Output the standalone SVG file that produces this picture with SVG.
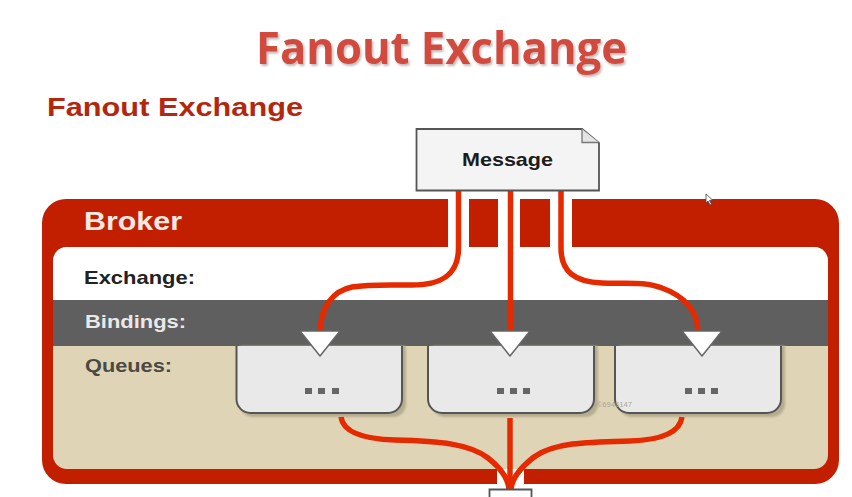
<svg xmlns="http://www.w3.org/2000/svg" width="852" height="497" viewBox="0 0 852 497">
<style>
text{font-family:"Liberation Sans",Arial,sans-serif;font-weight:bold}
.conn{fill:none;stroke:#e62a00;stroke-width:5.500}
.q{fill:#e9e9e9;stroke:#555;stroke-width:2}
.qs{fill:#b5ac90}
.tri{fill:#fff;stroke:#666;stroke-width:1.500;stroke-linejoin:round}
.lab{font-size:19px}
.dots{fill:#666}
</style>
<defs>
<filter id="b" x="-5%" y="-5%" width="110%" height="110%"><feGaussianBlur stdDeviation="1.200"/></filter>
<filter id="ts" x="-5%" y="-10%" width="110%" height="125%"><feDropShadow dx="1.500" dy="2" stdDeviation="1.200" flood-color="#b0a8a5" flood-opacity=".8"/></filter>
</defs>
<rect width="852" height="497" fill="#fff"/>
<text id="title" x="441.500" y="64" text-anchor="middle" textLength="371" lengthAdjust="spacingAndGlyphs" filter="url(#ts)" style="font-family:'Open Sans','Noto Sans',sans-serif;font-size:44px;fill:#d24a3e">Fanout Exchange</text>
<text id="subtitle" x="47" y="116" textLength="256" lengthAdjust="spacingAndGlyphs" style="font-size:25.500px;fill:#b3270f">Fanout Exchange</text>
<g id="broker">
<rect x="42" y="199" width="797" height="285" rx="24" fill="#c21f00"/>
<rect x="448" y="199" width="21" height="48" fill="#fff"/>
<rect x="498" y="199" width="22" height="48" fill="#fff"/>
<rect x="550" y="199" width="22" height="48" fill="#fff"/>
<rect x="497" y="469" width="27" height="15" fill="#fff"/>
<rect x="53" y="247" width="775" height="222" rx="14" fill="#e0d4b6"/>
<path d="M53 300V261a14 14 0 0 1 14-14H814a14 14 0 0 1 14 14V300Z" fill="#fff"/>
<rect x="53" y="300" width="775" height="46" fill="#5f5f5f"/>
<text x="84" y="230" textLength="98" lengthAdjust="spacingAndGlyphs" style="font-size:25px;fill:#f3e9e4">Broker</text>
<text class="lab" x="84" y="284" textLength="111" lengthAdjust="spacingAndGlyphs" fill="#222">Exchange:</text>
<text class="lab" x="85" y="328" textLength="101" lengthAdjust="spacingAndGlyphs" fill="#e9e9e9">Bindings:</text>
<text class="lab" x="85" y="372" textLength="87" lengthAdjust="spacingAndGlyphs" fill="#4a4a44">Queues:</text>
</g>
<g id="queue1">
<path class="qs" filter="url(#b)" d="M240 346V404a13 13 0 0 0 13 13H393a13 13 0 0 0 13-13V346Z"/>
<path class="q" d="M236.500 346V399a14 14 0 0 0 14 14H388a14 14 0 0 0 14-14V346"/>
<rect class="dots" x="305" y="388" width="7" height="6"/><rect class="dots" x="318" y="388" width="7" height="6"/><rect class="dots" x="332" y="388" width="7" height="6"/>
</g>
<g id="queue2">
<path class="qs" filter="url(#b)" d="M432 346V404a13 13 0 0 0 13 13H585a13 13 0 0 0 13-13V346Z"/>
<path class="q" d="M428 346V399a14 14 0 0 0 14 14H580a14 14 0 0 0 14-14V346"/>
<rect class="dots" x="497" y="388" width="7" height="6"/><rect class="dots" x="510" y="388" width="7" height="6"/><rect class="dots" x="523" y="388" width="7" height="6"/>
</g>
<g id="queue3">
<path class="qs" filter="url(#b)" d="M619 346V404a13 13 0 0 0 13 13H772a13 13 0 0 0 13-13V346Z"/>
<path class="q" d="M615 346V399a14 14 0 0 0 14 14H767a14 14 0 0 0 14-14V346"/>
<rect class="dots" x="685" y="388" width="7" height="6"/><rect class="dots" x="698" y="388" width="7" height="6"/><rect class="dots" x="711" y="388" width="7" height="6"/>
</g>
<text id="watermark" x="597" y="407" textLength="35" style="font-size:7px;font-weight:normal;fill:#a8a290">©6946147</text>
<g id="connectors">
<path class="conn" d="M458.500 190V248C458.500 272 445 285 412 285C390 285 370 284 352 287C332 291 321 308 320 331"/>
<path class="conn" d="M510.500 190V331"/>
<path class="conn" d="M561 190V248C561 272 575 282 602 283C625 284 645 281 662 288C684 296 697 310 698 331"/>
<path class="conn" d="M341 417C343 432 362 439 395 440C440 441 470 444 488 458C502 469 508 478 509 489"/>
<path class="conn" d="M510 418V489"/>
<path class="conn" d="M682 417C680 432 662 440 630 441C590 442 555 442 534 457C520 468 512 478 511 489"/>
</g>
<g id="triangles">
<path class="tri" d="M300 331H340L320 356Z"/>
<path class="tri" d="M490 331H530L510 356Z"/>
<path class="tri" d="M682 331H722L702 356Z"/>
</g>
<g id="message">
<path d="M416.500 129H582L599 143V190.500H416.500Z" fill="#f4f4f4" stroke="#555" stroke-width="1.800"/>
<path d="M582 129V142.500H599" fill="#e4e4e4" stroke="#777" stroke-width="1.300"/>
<text x="462" y="166" textLength="91" lengthAdjust="spacingAndGlyphs" style="font-size:19px;fill:#1c1c1c">Message</text>
</g>
<path id="exit" d="M489.500 497V489.500H531.500V497" fill="#fff" stroke="#555" stroke-width="1.800"/>
<path id="cursor" d="M706 194V203L708 201L710 205L711.500 204L709.500 200.500L712.500 200Z" fill="#fff" stroke="#444" stroke-width=".8"/>
</svg>
